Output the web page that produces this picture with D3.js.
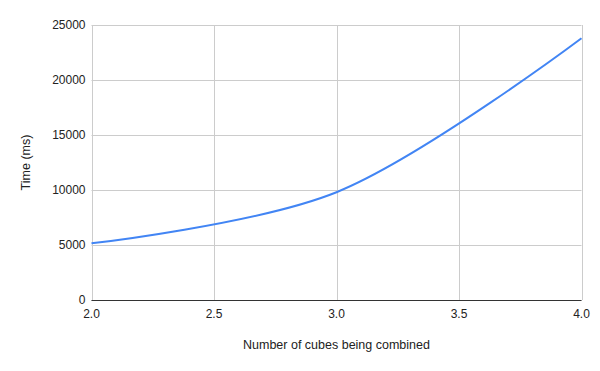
<!DOCTYPE html>
<html>
<head>
<meta charset="utf-8">
<script src="https://cdn.jsdelivr.net/npm/d3@7"></script>
<style>
  body { margin: 0; background: #fff; }
  text { font-family: "Liberation Sans", Arial, sans-serif; fill: #222; }
</style>
</head>
<body>
<div id="chart"></div>
<script>
// data
var cubes = [2, 3, 4];
var timeMs = [5150, 9800, 23790];
var xTicks = [2.0, 2.5, 3.0, 3.5, 4.0];
var yTicks = [0, 5000, 10000, 15000, 20000, 25000];

var width = 600, height = 371;
var margin = {left: 91.5, right: 18.5, top: 25, bottom: 71};

var svg = d3.select("#chart").append("svg")
    .attr("width", width)
    .attr("height", height);

var x = d3.scaleLinear().domain([2, 4]).range([margin.left, width - margin.right]);
var y = d3.scaleLinear().domain([0, 25000]).range([height - margin.bottom, margin.top]);

// gridlines
svg.append("g")
    .selectAll("line.h")
    .data(yTicks)
    .enter()
    .append("line")
    .attr("x1", x(2)).attr("x2", x(4))
    .attr("y1", function (d) { return Math.round(y(d)) + 0.5; })
    .attr("y2", function (d) { return Math.round(y(d)) + 0.5; })
    .style("stroke", "#cccccc");

svg.append("g")
    .selectAll("line.v")
    .data(xTicks)
    .enter()
    .append("line")
    .attr("x1", function (d) { return Math.round(x(d)) + 0.5; })
    .attr("x2", function (d) { return Math.round(x(d)) + 0.5; })
    .attr("y1", y(0)).attr("y2", y(25000))
    .style("stroke", "#cccccc");

// baseline
svg.append("line")
    .attr("x1", x(2)).attr("x2", x(4))
    .attr("y1", Math.round(y(0)) + 0.5).attr("y2", Math.round(y(0)) + 0.5)
    .style("stroke", "#333333");

// tick labels
svg.append("g")
    .selectAll("text")
    .data(yTicks)
    .enter()
    .append("text")
    .attr("x", margin.left - 6)
    .attr("y", function (d) { return y(d); })
    .attr("dy", "0.35em")
    .attr("text-anchor", "end")
    .style("font-size", "12px")
    .text(function (d) { return d; });

svg.append("g")
    .selectAll("text")
    .data(xTicks)
    .enter()
    .append("text")
    .attr("x", function (d) { return x(d); })
    .attr("y", y(0) + 18)
    .attr("text-anchor", "middle")
    .style("font-size", "12px")
    .text(function (d) { return d.toFixed(1); });

// axis titles
svg.append("text")
    .attr("x", (x(2) + x(4)) / 2)
    .attr("y", 349)
    .attr("text-anchor", "middle")
    .style("font-size", "12.5px")
    .text("Number of cubes being combined");

svg.append("text")
    .attr("transform", "translate(30," + ((y(0) + y(25000)) / 2) + ") rotate(-90)")
    .attr("text-anchor", "middle")
    .style("font-size", "12.5px")
    .text("Time (ms)");

// the line
var line = d3.line()
    .x(function (d, i) { return x(cubes[i]); })
    .y(function (d) { return y(d); })
    .curve(d3.curveCatmullRom);

svg.append("path")
    .datum(timeMs)
    .attr("d", line)
    .style("fill", "none")
    .style("stroke", "#4285f4")
    .style("stroke-width", 2);
</script>
</body>
</html>
